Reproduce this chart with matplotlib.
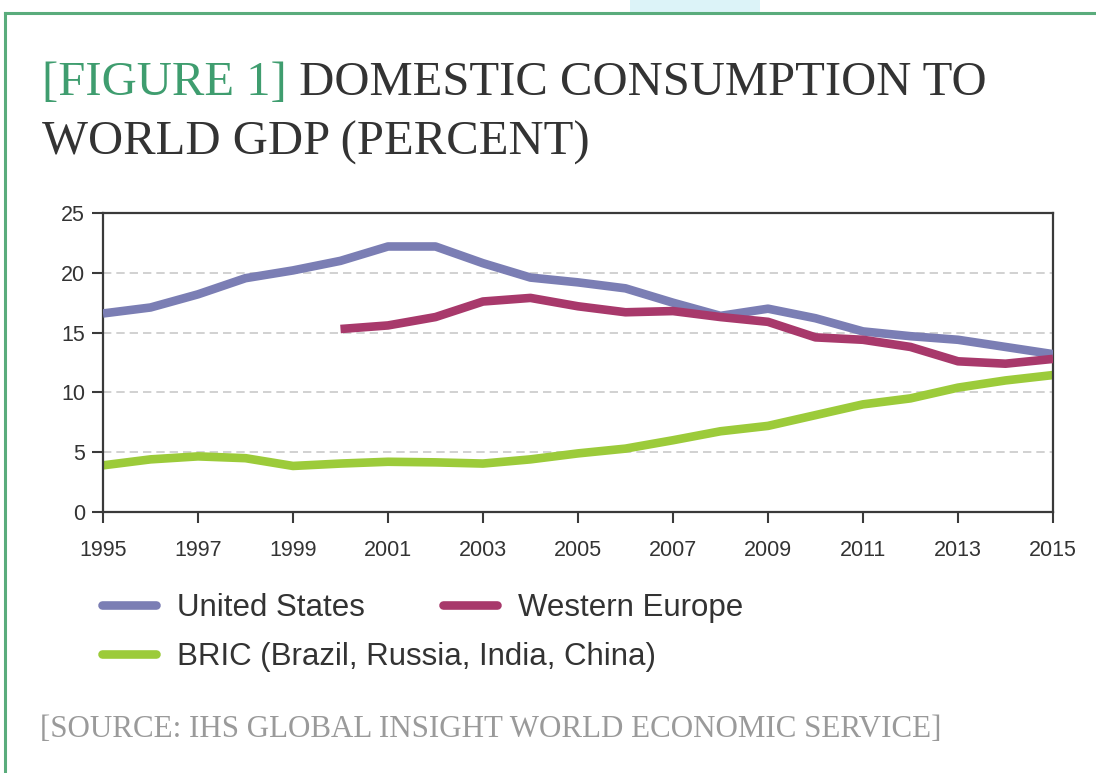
import matplotlib
matplotlib.use('Agg')
import matplotlib.pyplot as plt
from matplotlib.lines import Line2D
from matplotlib.patches import Rectangle

# data
years = list(range(1995, 2016))
us = [16.6, 17.1, 18.2, 19.55, 20.2, 21.0, 22.2, 22.2, 20.8, 19.6, 19.2,
      18.7, 17.5, 16.4, 17.0, 16.2, 15.1, 14.7, 14.4, 13.8, 13.2]
we_years = list(range(2000, 2016))
we = [15.3, 15.6, 16.3, 17.6, 17.9, 17.2, 16.7, 16.8, 16.3, 15.9, 14.6,
      14.4, 13.8, 12.6, 12.4, 12.8]
bric = [3.9, 4.4, 4.65, 4.5, 3.85, 4.05, 4.2, 4.15, 4.05, 4.4, 4.9,
        5.3, 6.0, 6.75, 7.2, 8.1, 9.0, 9.5, 10.4, 11.0, 11.45]

x_ticks = list(range(1995, 2016, 2))
y_ticks = [0, 5, 10, 15, 20, 25]

c_us = '#7b7eb4'
c_we = '#a8396b'
c_bric = '#9ccb3a'
c_green = '#5aac7c'
c_text = '#333333'

W, H = 1096, 773
fig = plt.figure(figsize=(W / 100, H / 100), dpi=100, facecolor='white')

# frame and top decoration
fig.patches.append(Rectangle((630 / W, 1 - 13 / H), 130 / W, 13 / H,
                             transform=fig.transFigure, facecolor='#dcf3f8',
                             edgecolor='none', zorder=0))
fig.lines.append(Line2D([5 / W, 1], [1 - 13 / H, 1 - 13 / H],
                        transform=fig.transFigure, color=c_green, lw=2.2))
fig.lines.append(Line2D([5 / W, 5 / W], [0, 1 - 13 / H],
                        transform=fig.transFigure, color=c_green, lw=2.2))

ax = fig.add_axes([103 / W, 1 - 512 / H, (1053 - 103) / W, (512 - 213) / H])

lw = 6.2
ax.plot(years, us, color=c_us, lw=lw, label='United States', zorder=3,
        solid_capstyle='butt', solid_joinstyle='round')
ax.plot(we_years, we, color=c_we, lw=lw, label='Western Europe', zorder=4,
        solid_capstyle='butt', solid_joinstyle='round')
ax.plot(years, bric, color=c_bric, lw=lw,
        label='BRIC (Brazil, Russia, India, China)', zorder=2,
        solid_capstyle='butt', solid_joinstyle='round')

ax.set_xlim(1995, 2015)
ax.set_ylim(0, 25)
ax.set_xticks(x_ticks)
ax.set_yticks(y_ticks)
for y in y_ticks[1:-1]:
    ax.axhline(y, color='#c9c9c9', lw=1.2, ls=(0, (5, 3)), zorder=1)

for s in ax.spines.values():
    s.set_color('#3a3a3a')
    s.set_linewidth(1.6)
ax.tick_params(direction='out', length=8, width=1.5, color='#3a3a3a',
               labelsize=15.5, labelcolor=c_text)
ax.tick_params(axis='x', pad=12)
ax.tick_params(axis='y', pad=5)
for lab in ax.get_xticklabels() + ax.get_yticklabels():
    lab.set_family('Liberation Sans')

# legend: two rows
h = [Line2D([], [], color=l.get_color(), lw=lw, solid_capstyle='round',
            label=l.get_label()) for l in ax.get_lines()[:3]]
leg_kw = dict(frameon=False, prop={'family': 'Liberation Sans', 'size': 22.5},
              handlelength=1.72, handletextpad=0.68, borderpad=0,
              borderaxespad=0, labelcolor=c_text, loc='center left',
              bbox_transform=fig.transFigure)
leg1 = ax.legend(h[:2], [l.get_label() for l in h[:2]], ncol=2,
                 columnspacing=2.5, bbox_to_anchor=(102 / W, 1 - 608 / H),
                 **leg_kw)
ax.add_artist(leg1)
ax.legend(h[2:], [h[2].get_label()], bbox_to_anchor=(102 / W, 1 - 657 / H),
          **leg_kw)

# title in two colours
t1 = fig.text(42 / W, 1 - 95 / H, '[FIGURE 1]', family='Liberation Serif',
              fontsize=35, color='#3f9d6f', va='baseline', ha='left')
fig.canvas.draw()
bb = t1.get_window_extent()
fig.text(bb.x1 / W, 1 - 95 / H, ' DOMESTIC CONSUMPTION TO',
         family='Liberation Serif', fontsize=35, color=c_text,
         va='baseline', ha='left')
fig.text(42 / W, 1 - 155 / H, 'WORLD GDP (PERCENT)', family='Liberation Serif',
         fontsize=35, color=c_text, va='baseline', ha='left')

fig.text(40 / W, 1 - 737 / H,
         '[SOURCE: IHS GLOBAL INSIGHT WORLD ECONOMIC SERVICE]',
         family='Liberation Serif', fontsize=22.3, color='#9a9a9a',
         va='baseline', ha='left')

fig.savefig('out.png', dpi=100, facecolor='white')
